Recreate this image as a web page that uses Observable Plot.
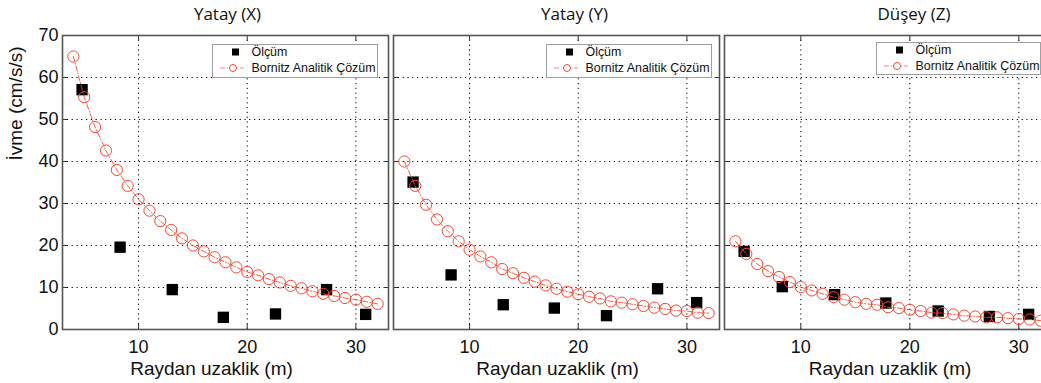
<!DOCTYPE html>
<html><head><meta charset="utf-8">
<script src="https://cdn.jsdelivr.net/npm/d3@7"></script>
<script src="https://cdn.jsdelivr.net/npm/@observablehq/plot@0.6"></script>
<style>
html,body{margin:0;padding:0;background:#fff;overflow:hidden;}
#wrap{position:relative;width:1041px;height:383px;overflow:hidden;background:#fff;}
.panel{position:absolute;top:0;}
.legend{position:absolute;}
</style></head>
<body><div id="wrap"></div>
<script>
// ---- data ----
const titles = ["Yatay (X)", "Yatay (Y)", "Düşey (Z)"];
const xLabel = "Raydan uzaklik (m)";
const yLabel = "İvme (cm/s/s)";
const legendLabels = ["Ölçüm", "Bornitz Analitik Çözüm"];
const xTicks = [10, 20, 30];
const yTicks = [0, 10, 20, 30, 40, 50, 60, 70];

const bornitzDist = [4,5,6,7,8,9,10,11,12,13,14,15,16,17,18,19,20,21,22,23,24,25,26,27,28,29,30,31,32];
const bornitzX = [65,55.3,48.2,42.6,38.0,34.2,31.0,28.3,25.8,23.7,21.7,20.0,18.6,17.2,16.0,14.8,13.7,12.9,12.0,11.2,10.4,9.8,9.1,8.5,8.0,7.5,7.1,6.6,6.1];
const bornitzY = [40.0,34.2,29.7,26.2,23.4,21.0,19.0,17.4,16.0,14.4,13.4,12.3,11.4,10.5,9.7,9.0,8.4,7.8,7.4,6.7,6.4,6.0,5.6,5.2,4.9,4.5,4.4,4.0,3.9];
const bornitzZ = [21.0,18.0,15.6,13.9,12.5,11.3,10.1,9.3,8.5,7.7,7.1,6.5,6.1,5.9,5.3,5.1,4.7,4.4,4.0,3.9,3.6,3.3,3.1,2.9,2.9,2.7,2.5,2.4,2.1];

const measDist = [4.8, 8.3, 13.1, 17.8, 22.6, 27.3, 30.9];
const measX = [57.1, 19.6, 9.5, 2.9, 3.7, 9.5, 3.6];
const measY = [35.1, 13.0, 5.9, 5.1, 3.3, 9.7, 6.4];
const measZ = [18.6, 10.2, 8.3, 6.3, 4.4, 3.1, 3.6];

// ---- styles ----
const RED = "#ff4530";
const SANS = "'Liberation Sans', Arial, Helvetica, sans-serif";
const TITLEFONT = "'Open Sans', 'Noto Sans', sans-serif";

const wrap = document.getElementById("wrap");

function panel(cfg) {
  const curve = bornitzDist.map((d, i) => ({d, v: cfg.curve[i]}));
  const pts = measDist.map((d, i) => ({d, v: cfg.meas[i]}));
  const grid = {stroke: "#000", strokeOpacity: 1, strokeDasharray: "1.2,3.6", strokeWidth: 1};
  const marks = [
    Plot.gridX(xTicks, grid),
    Plot.gridY(yTicks, grid),
    Plot.axisX(xTicks, {anchor: "bottom", tickSize: -5, tickFormat: () => "", label: null, stroke: "#333"}),
    Plot.axisX(xTicks, {anchor: "top", tickSize: -5, tickFormat: () => "", label: null, stroke: "#333"}),
    Plot.axisY(yTicks, {anchor: "left", tickSize: -5, tickFormat: () => "", label: null, stroke: "#333"}),
    Plot.axisY(yTicks, {anchor: "right", tickSize: -5, tickFormat: () => "", label: null, stroke: "#333"}),
    Plot.axisX(xTicks, {anchor: "bottom", tickSize: 0, tickPadding: 11, fontSize: 18, fontFamily: SANS, fill: "#111", label: null}),
    Plot.dot(pts, {x: "d", y: "v", symbol: "square", r: 6.4, fill: "#000", stroke: null}),
    Plot.line(curve, {x: "d", y: "v", stroke: RED, strokeWidth: 0.9, strokeDasharray: "5,2,1,2"}),
    Plot.dot(curve, {x: "d", y: "v", r: 5.6, stroke: RED, strokeWidth: 1, fill: "none"}),
    Plot.frame({stroke: "#555", strokeWidth: 1.6}),
    Plot.text([cfg.title], {frameAnchor: "top", dy: -21, dx: cfg.titleDx, fontSize: 17, fontFamily: TITLEFONT, fill: "#111", lineAnchor: "middle"}),
    Plot.text([xLabel], {frameAnchor: "bottom", dy: 39, dx: cfg.labelDx, fontSize: 19, fontFamily: SANS, fill: "#111", lineAnchor: "middle"})
  ];
  if (cfg.yAxis) {
    marks.push(Plot.axisY(yTicks, {anchor: "left", tickSize: 0, tickPadding: 4, fontSize: 18, fontFamily: SANS, fill: "#111", label: null}));
    marks.push(Plot.text([yLabel], {frameAnchor: "left", dx: -47, dy: -22, rotate: -90, fontSize: 19, fontFamily: SANS, fill: "#111", lineAnchor: "middle"}));
  }
  const svg = Plot.plot({
    width: cfg.width, height: 383,
    marginLeft: cfg.mL, marginRight: 2, marginTop: 35, marginBottom: 54,
    x: {domain: [3, 33]}, y: {domain: [0, 70]},
    style: {background: "transparent", overflow: "visible"},
    marks
  });
  svg.classList.add("panel");
  svg.style.left = cfg.left + "px";
  wrap.appendChild(svg);
  legend(cfg.leg);
}

function legend([lx, ly, lw, lh]) {
  const s = d3.create("svg").attr("class", "legend").attr("width", lw).attr("height", lh)
    .style("left", lx + "px").style("top", ly + "px");
  s.append("rect").attr("x", 0.5).attr("y", 0.5).attr("width", lw - 1).attr("height", lh - 1)
    .attr("fill", "#fff").attr("stroke", "#a0a0a0").attr("stroke-width", 1);
  s.append("rect").attr("x", 20).attr("y", 4.5).attr("width", 7).attr("height", 7).attr("fill", "#000");
  s.append("line").attr("x1", 8).attr("x2", 32).attr("y1", 24).attr("y2", 24)
    .attr("stroke", RED).attr("stroke-opacity", 0.7).attr("stroke-width", 0.9).attr("stroke-dasharray", "5,2,1,2");
  s.append("circle").attr("cx", 21).attr("cy", 24).attr("r", 3.5).attr("fill", "#fff").attr("stroke", RED).attr("stroke-width", 1);
  [0, 1].forEach(i => {
    s.append("text").attr("x", 39.5).attr("y", 8 + i * 16).attr("dy", "0.36em")
      .attr("font-family", SANS).attr("font-size", 12.4).attr("fill", "#111").text(legendLabels[i]);
  });
  wrap.appendChild(s.node());
}

panel({curve: bornitzX, meas: measX, title: titles[0], left: 0, mL: 62, width: 390, titleDx: 2, labelDx: -14, yAxis: true, leg: [212, 44, 166, 34]});
panel({curve: bornitzY, meas: measY, title: titles[1], left: 388, mL: 5, width: 333, titleDx: 18, labelDx: 1, yAxis: false, leg: [546, 44, 166, 34]});
panel({curve: bornitzZ, meas: measZ, title: titles[2], left: 719, mL: 5, width: 334, titleDx: 26, labelDx: 2, yAxis: false, leg: [876, 42, 165, 33]});
</script>
</body></html>
